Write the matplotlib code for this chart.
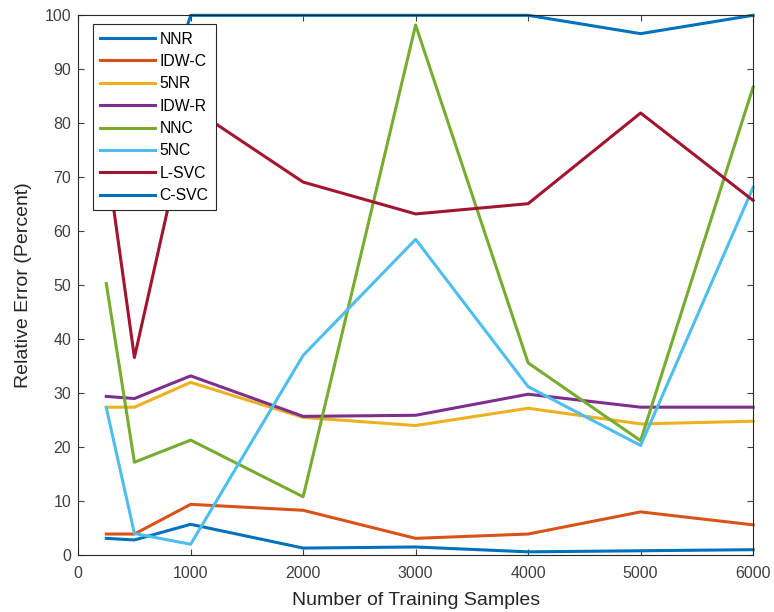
import matplotlib
matplotlib.use('Agg')
import matplotlib.pyplot as plt

# Training set sizes
samples = [250, 500, 1000, 2000, 3000, 4000, 5000, 6000]

# Relative error (percent) per method
nnr = [3.1, 2.8, 5.7, 1.3, 1.5, 0.6, 0.8, 1.0]
idw_c = [3.9, 3.9, 9.4, 8.3, 3.1, 3.9, 8.0, 5.6]
five_nr = [27.4, 27.4, 32.0, 25.5, 24.0, 27.2, 24.3, 24.8]
idw_r = [29.4, 29.0, 33.2, 25.7, 25.9, 29.8, 27.4, 27.4]
nnc = [50.3, 17.2, 21.3, 10.8, 98.2, 35.6, 21.2, 86.7]
five_nc = [27.3, 4.0, 2.0, 37.0, 58.5, 31.2, 20.3, 68.1]
l_svc = [74.0, 36.6, 83.0, 69.1, 63.2, 65.1, 81.9, 65.7]
c_svc = [70.0, 67.0, 100.0, 100.0, 100.0, 100.0, 96.6, 100.0]

labels = ['NNR', 'IDW-C', '5NR', 'IDW-R', 'NNC', '5NC', 'L-SVC', 'C-SVC']
series = [nnr, idw_c, five_nr, idw_r, nnc, five_nc, l_svc, c_svc]
colors = ['#0072BD', '#D95319', '#EDB120', '#7E2F8E',
          '#77AC30', '#4DBEEE', '#A2142F', '#0072BD']

plt.rcParams['font.family'] = ['Liberation Sans', 'DejaVu Sans']

fig = plt.figure(figsize=(7.74, 6.12), dpi=100)
ax = fig.add_axes([0.101, 0.093, 0.872, 0.882])

for vals, lab, col in zip(series, labels, colors):
    ax.plot(samples, vals, color=col, linewidth=2.2, label=lab, clip_on=False)

ax.set_xlim(0, 6000)
ax.set_ylim(0, 100)
ax.set_xticks(range(0, 6001, 1000))
ax.set_yticks(range(0, 101, 10))
ax.tick_params(direction='in', top=True, right=True, labelsize=11.5,
               colors='#404040', length=4, width=0.8)
ax.tick_params(axis='x', pad=8)
ax.tick_params(axis='y', pad=5)
for sp in ax.spines.values():
    sp.set_color('#262626')
    sp.set_linewidth(0.8)

ax.set_xlabel('Number of Training Samples', fontsize=14, color='#262626', labelpad=8)
ax.set_ylabel('Relative Error (Percent)', fontsize=14, color='#262626', labelpad=9)

leg = ax.legend(loc='upper left', bbox_to_anchor=(0.022, 0.983), fontsize=11.3,
                handlelength=3.5, labelspacing=0.47, borderpad=0.45,
                handletextpad=0.3, fancybox=False, framealpha=1,
                edgecolor='#262626', borderaxespad=0)
leg.get_frame().set_linewidth(0.8)
leg.set_zorder(10)

fig.savefig('out.png', dpi=100)
